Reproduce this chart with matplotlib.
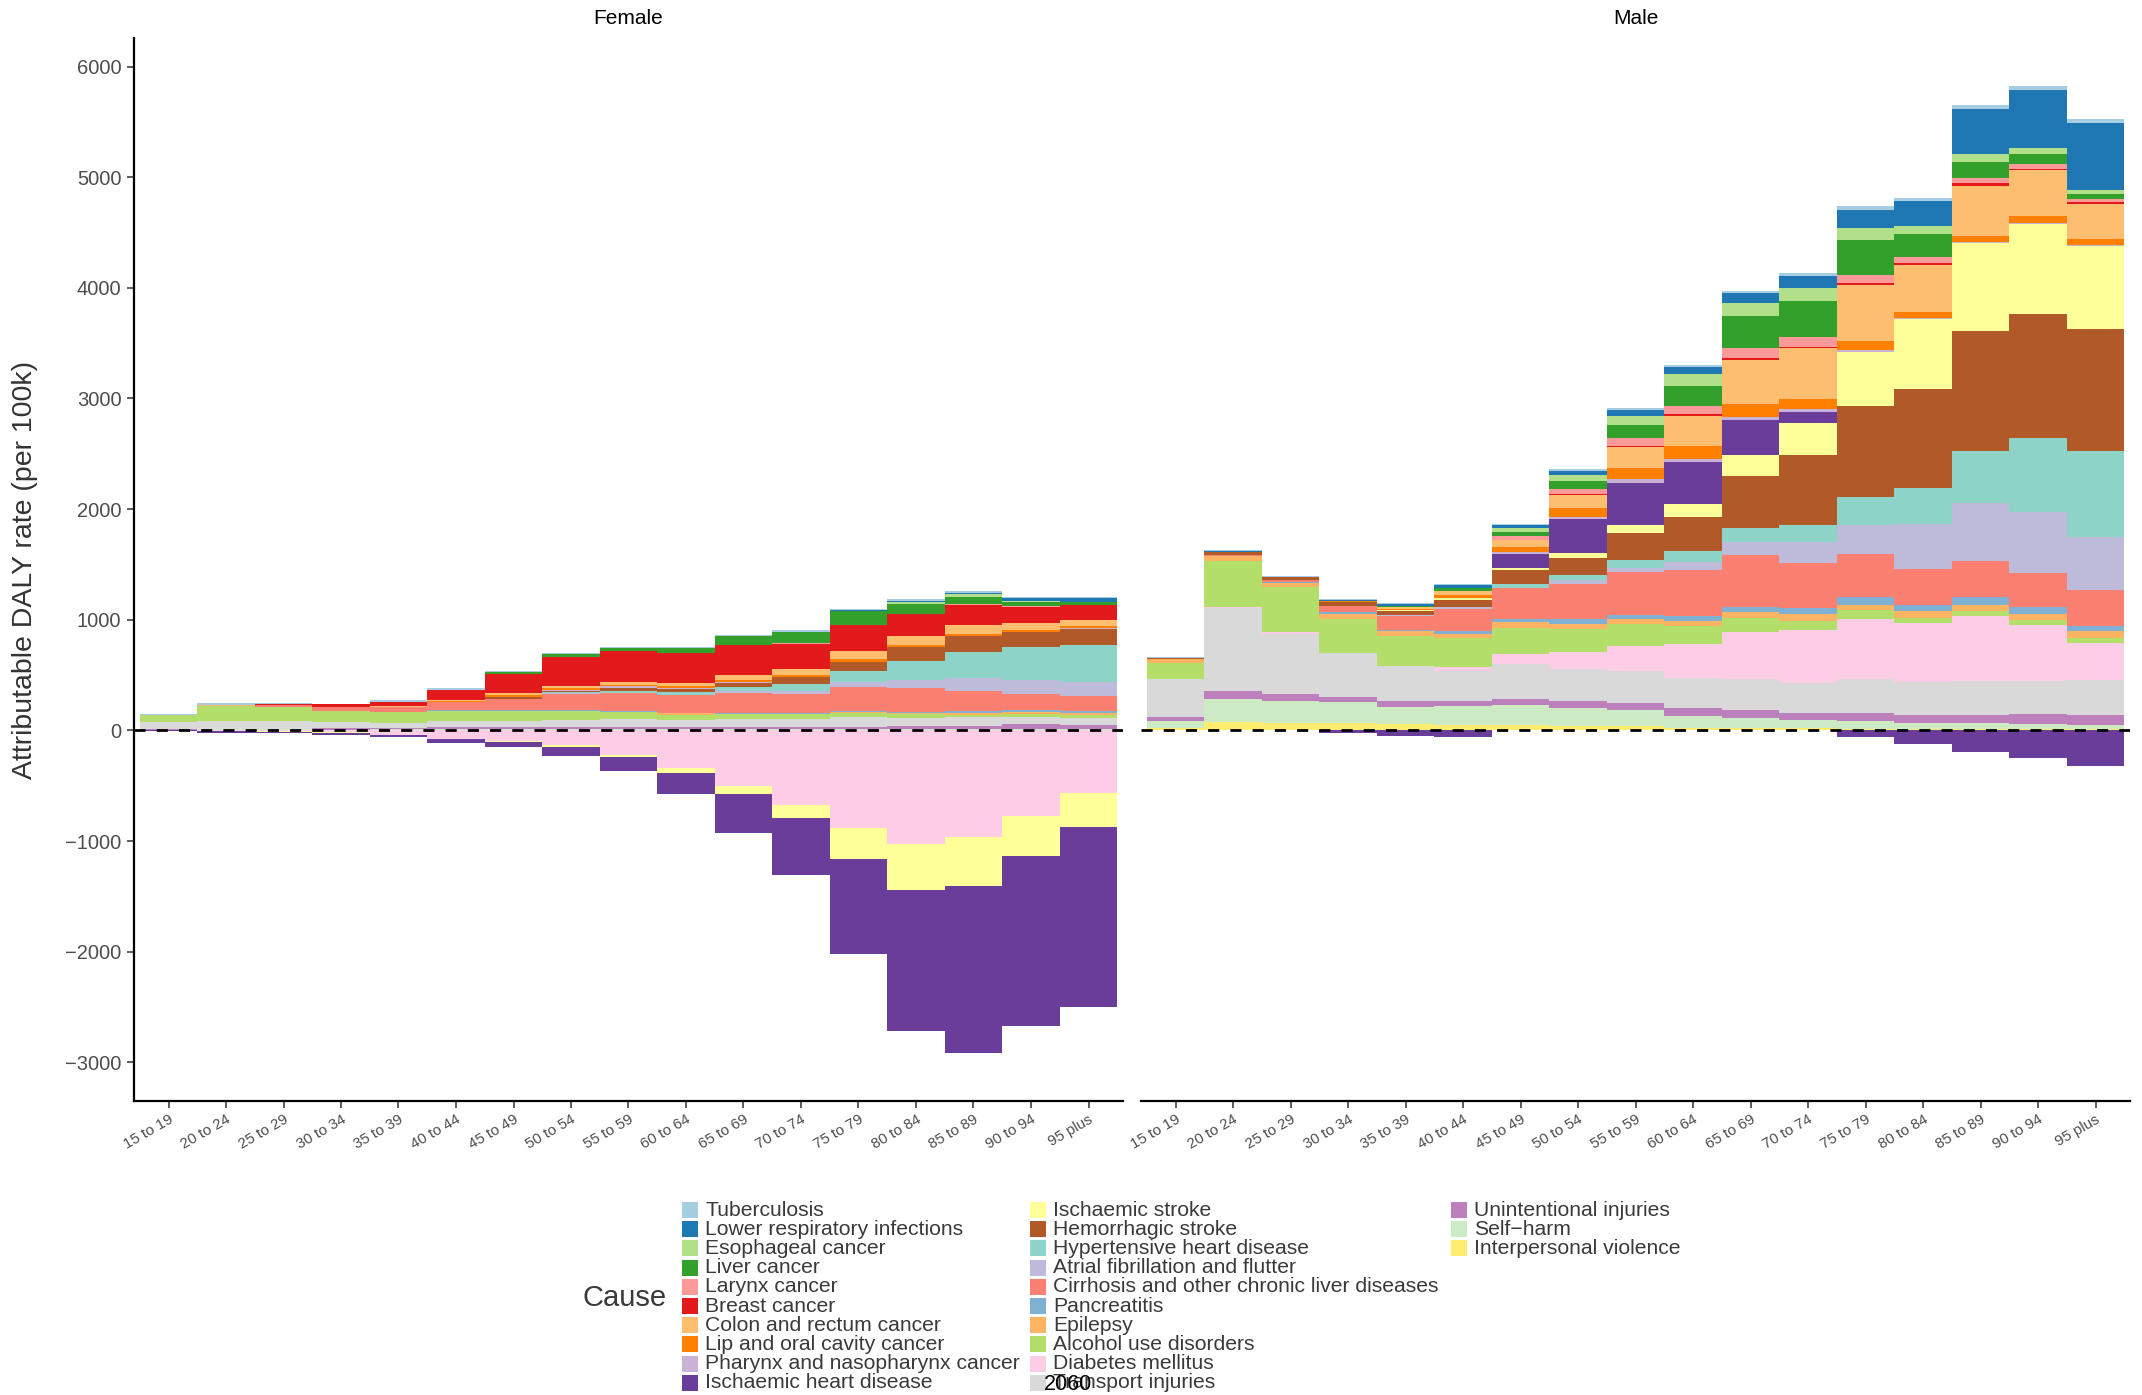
import matplotlib
matplotlib.use("Agg")
import matplotlib.pyplot as plt
from matplotlib.patches import Rectangle
import numpy as np

plt.rcParams['font.family'] = ['Liberation Sans', 'DejaVu Sans']
plt.rcParams['axes.unicode_minus'] = True

# ---------------- data ----------------
ages = ["15 to 19", "20 to 24", "25 to 29", "30 to 34", "35 to 39", "40 to 44",
        "45 to 49", "50 to 54", "55 to 59", "60 to 64", "65 to 69", "70 to 74",
        "75 to 79", "80 to 84", "85 to 89", "90 to 94", "95 plus"]

causes = ["Tuberculosis", "Lower respiratory infections", "Esophageal cancer",
          "Liver cancer", "Larynx cancer", "Breast cancer", "Colon and rectum cancer",
          "Lip and oral cavity cancer", "Pharynx and nasopharynx cancer",
          "Ischaemic heart disease", "Ischaemic stroke", "Hemorrhagic stroke",
          "Hypertensive heart disease", "Atrial fibrillation and flutter",
          "Cirrhosis and other chronic liver diseases", "Pancreatitis", "Epilepsy",
          "Alcohol use disorders", "Diabetes mellitus", "Transport injuries",
          "Unintentional injuries", "Self\u2212harm", "Interpersonal violence"]

cause_colors = ["#A6CEE3", "#1F78B4", "#B2DF8A", "#33A02C", "#FB9A99", "#E31A1C",
                "#FDBF6F", "#FF7F00", "#CAB2D6", "#6A3D9A", "#FFFF99", "#B15928",
                "#8DD3C7", "#BEBADA", "#FB8072", "#80B1D3", "#FDB462", "#B3DE69",
                "#FCCDE5", "#D9D9D9", "#BC80BD", "#CCEBC5", "#FFED6F"]

# Female values (per 100k), one list per cause, ordered by age group
f_tuberculosis   = [5, 12, 5, 5, 15, 12, 9, 9, 12, 15, 15, 24, 15, 18, 18, 9, 9]
f_lower_resp     = [0, 0, 0, 0, 0, 0, 0, 0, 0, 0, 0, 0, 6, 6, 10, 30, 36]
f_esophageal     = [0, 0, 0, 0, 0, 0, 0, 0, 0, 0, 0, 0, 0, 18, 24, 9, 0]
f_liver_cancer   = [0, 0, 0, 0, 0, 6, 18, 24, 27, 42, 81, 96, 126, 90, 63, 33, 27]
f_larynx         = [0, 0, 0, 0, 0, 0, 0, 0, 0, 0, 0, 6, 0, 0, 9, 6, 0]
f_breast         = [0, 0, 10, 24, 39, 87, 169, 262, 280, 267, 264, 225, 234, 198, 180, 147, 135]
f_colon          = [0, 0, 0, 0, 5, 8, 21, 18, 27, 33, 45, 60, 72, 81, 81, 63, 54]
f_lip_oral       = [0, 0, 0, 0, 4, 7, 15, 18, 15, 15, 18, 15, 27, 18, 18, 18, 18]
f_pharynx        = [0, 0, 0, 0, 0, 0, 0, 6, 12, 9, 9, 0, 0, 0, 0, 0, 9]
f_ihd            = [-8, -10, -12, -24, -20, -33, -42, -81, -126, -189, -351, -514, -865, -1270, -1502, -1541, -1631]
f_isch_stroke    = [0, -5, -5, -3, -3, -3, -12, -18, -21, -45, -72, -117, -279, -423, -450, -360, -306]
f_hem_stroke     = [0, 0, 5, 0, 0, 0, 15, 9, 27, 24, 36, 60, 81, 126, 144, 135, 144]
f_hypertensive   = [0, 0, 0, 0, 0, 0, 0, 15, 21, 33, 42, 63, 99, 171, 234, 297, 333]
f_atrial_fib     = [0, 0, 0, 0, 0, 0, 0, 6, 0, 0, 12, 27, 45, 72, 117, 126, 126]
f_cirrhosis      = [0, 0, 10, 36, 45, 75, 105, 145, 160, 165, 189, 180, 225, 225, 189, 153, 144]
f_pancreatitis   = [0, 0, 0, 0, 0, 9, 12, 6, 9, 0, 9, 9, 9, 9, 15, 15, 12]
f_epilepsy       = [5, 12, 8, 0, 0, 0, 0, 6, 0, 15, 0, 0, 9, 9, 18, 18, 24]
f_alcohol        = [60, 139, 126, 105, 100, 90, 84, 80, 69, 48, 45, 45, 36, 36, 21, 30, 27]
f_diabetes       = [0, -5, -8, -18, -40, -78, -96, -132, -219, -339, -501, -673, -880, -1024, -961, -772, -565]
f_transport      = [66, 66, 66, 54, 42, 60, 60, 63, 72, 63, 72, 72, 90, 72, 81, 63, 63]
f_unintentional  = [3, 5, 5, 12, 15, 18, 18, 21, 18, 18, 18, 18, 18, 27, 27, 45, 36]
f_self_harm      = [3, 5, 5, 3, 5, 5, 6, 6, 6, 6, 6, 6, 6, 6, 6, 6, 6]
f_interpersonal  = [3, 5, 5, 3, 3, 3, 3, 3, 3, 3, 3, 3, 3, 3, 3, 3, 3]

# Male values (per 100k)
m_tuberculosis   = [9, 9, 9, 6, 9, 12, 9, 18, 18, 20, 24, 27, 31, 35, 39, 35, 35]
m_lower_resp     = [0, 9, 0, 6, 18, 27, 27, 36, 54, 55, 82, 110, 169, 220, 404, 525, 608]
m_esophageal     = [0, 0, 0, 0, 0, 0, 36, 54, 81, 110, 125, 118, 106, 78, 78, 55, 35]
m_liver_cancer   = [0, 0, 0, 0, 9, 27, 36, 72, 117, 180, 282, 325, 318, 208, 145, 86, 43]
m_larynx         = [0, 0, 0, 0, 0, 0, 36, 45, 72, 78, 90, 86, 71, 47, 47, 43, 31]
m_breast         = [0, 0, 0, 0, 0, 0, 3, 9, 9, 12, 20, 12, 20, 20, 20, 12, 20]
m_colon          = [0, 0, 3, 5, 18, 36, 63, 117, 198, 278, 396, 463, 506, 424, 451, 420, 314]
m_lip_oral       = [0, 0, 3, 4, 9, 27, 45, 81, 99, 118, 118, 90, 82, 55, 59, 59, 51]
m_pharynx        = [0, 0, 0, 0, 0, 0, 18, 18, 36, 20, 27, 27, 16, 12, 12, 12, 16]
m_ihd            = [0, 0, 0, -24, -54, -60, 126, 306, 378, 380, 318, 98, -63, -125, -192, -250, -320]
m_isch_stroke    = [0, 0, 0, 6, 9, 18, 18, 45, 72, 125, 188, 290, 490, 631, 792, 808, 745]
m_hem_stroke     = [9, 27, 27, 30, 36, 63, 126, 153, 243, 306, 471, 631, 816, 894, 1086, 1122, 1102]
m_hypertensive   = [0, 0, 0, 0, 0, 0, 36, 45, 72, 98, 125, 153, 259, 329, 471, 671, 776]
m_atrial_fib     = [0, 0, 0, 0, 6, 18, 0, 36, 36, 75, 118, 188, 255, 404, 525, 549, 482]
m_cirrhosis      = [0, 6, 18, 54, 126, 198, 279, 315, 387, 408, 471, 408, 392, 325, 322, 306, 325]
m_pancreatitis   = [0, 0, 6, 18, 6, 27, 27, 45, 36, 51, 47, 55, 71, 51, 71, 63, 47]
m_epilepsy       = [36, 45, 36, 45, 45, 36, 54, 45, 45, 47, 55, 59, 51, 67, 51, 55, 63]
m_alcohol        = [144, 415, 405, 315, 275, 261, 234, 207, 198, 157, 125, 86, 75, 43, 47, 47, 43]
m_diabetes       = [0, 6, 18, 0, 0, 36, 90, 153, 225, 306, 424, 475, 541, 537, 588, 506, 337]
m_transport      = [351, 750, 540, 390, 320, 270, 315, 297, 297, 271, 282, 278, 310, 294, 310, 298, 314]
m_unintentional  = [36, 72, 63, 54, 54, 54, 63, 63, 63, 75, 71, 63, 71, 75, 71, 94, 90]
m_self_harm      = [63, 216, 204, 186, 153, 171, 180, 162, 144, 106, 90, 71, 75, 55, 55, 43, 39]
m_interpersonal  = [18, 72, 66, 66, 54, 45, 45, 36, 36, 24, 24, 20, 12, 12, 12, 12, 12]

female_series = [f_tuberculosis, f_lower_resp, f_esophageal, f_liver_cancer, f_larynx,
                 f_breast, f_colon, f_lip_oral, f_pharynx, f_ihd, f_isch_stroke,
                 f_hem_stroke, f_hypertensive, f_atrial_fib, f_cirrhosis, f_pancreatitis,
                 f_epilepsy, f_alcohol, f_diabetes, f_transport, f_unintentional,
                 f_self_harm, f_interpersonal]
male_series = [m_tuberculosis, m_lower_resp, m_esophageal, m_liver_cancer, m_larynx,
               m_breast, m_colon, m_lip_oral, m_pharynx, m_ihd, m_isch_stroke,
               m_hem_stroke, m_hypertensive, m_atrial_fib, m_cirrhosis, m_pancreatitis,
               m_epilepsy, m_alcohol, m_diabetes, m_transport, m_unintentional,
               m_self_harm, m_interpersonal]

panels = [("Female", female_series), ("Male", male_series)]

# ---------------- layout ----------------
W, H = 2142, 1395
fig = plt.figure(figsize=(W / 100, H / 100), dpi=100)
fig.patch.set_facecolor("white")

panel_top, panel_bot = 38, 1101
lefts = [134, 1141]
pw = 989

x = np.arange(1, len(ages) + 1)

# y range from the stacked data with 5% expansion (as ggplot)
all_pos, all_neg = [], []
for _, series in panels:
    arr = np.array(series, dtype=float)
    all_pos.append(np.clip(arr, 0, None).sum(axis=0).max())
    all_neg.append(np.clip(arr, None, 0).sum(axis=0).min())
ymax, ymin = max(all_pos), min(all_neg)
pad = 0.05 * (ymax - ymin)
ylim = (ymin - pad, ymax + pad)

text_grey = "#4D4D4D"
axes = []
for k, (label, series) in enumerate(panels):
    ax = fig.add_axes([lefts[k] / W, 1 - panel_bot / H, pw / W, (panel_bot - panel_top) / H])
    axes.append(ax)
    pos_cum = np.zeros(len(ages))
    neg_cum = np.zeros(len(ages))
    for i in range(len(causes) - 1, -1, -1):
        vals = np.array(series[i], dtype=float)
        pos = np.clip(vals, 0, None)
        neg = np.clip(vals, None, 0)
        ax.bar(x, pos, width=1.0, bottom=pos_cum, color=cause_colors[i], linewidth=0)
        ax.bar(x, neg, width=1.0, bottom=neg_cum, color=cause_colors[i], linewidth=0)
        pos_cum += pos
        neg_cum += neg
    ax.axhline(0, color="black", lw=2.0, linestyle=(0, (4, 4)), zorder=5)
    ax.set_xlim(0.4, len(ages) + 0.6)
    ax.set_ylim(*ylim)
    ax.set_xticks(x)
    ax.set_xticklabels(ages, rotation=30, ha="right", va="top",
                       rotation_mode="anchor", fontsize=10.8, color=text_grey)
    ax.tick_params(axis="x", length=5, width=1.1, color="#333333", pad=3)
    for s in ["top", "right"]:
        ax.spines[s].set_visible(False)
    ax.spines["bottom"].set_linewidth(1.6)
    ax.spines["left"].set_linewidth(1.6)
    ax.set_facecolor("white")
    if k == 0:
        ax.set_yticks(np.arange(-3000, 6001, 1000))
        ax.tick_params(axis="y", length=5, width=1.1, color="#333333", pad=4,
                       labelsize=14.5, labelcolor=text_grey)
    else:
        ax.spines["left"].set_visible(False)
        ax.set_yticks([])
    fig.text((lefts[k] + pw / 2) / W, 1 - 18 / H, label, ha="center", va="center",
             fontsize=15, color="black")

fig.text(25 / W, 1 - ((panel_top + panel_bot) / 2) / H, "Attributable DALY rate (per 100k)",
         rotation=90, ha="center", va="center", fontsize=20.5, color="#333333")

# ---------------- legend ----------------
key_w, key_h = 16, 16
col_key_x = [682, 1030, 1451]
row0_y, row_dy = 1210, 19.2
for i, c in enumerate(causes):
    col, row = divmod(i, 10)
    cy = row0_y + row * row_dy
    kx = col_key_x[col]
    fig.patches.append(Rectangle((kx / W, 1 - (cy + key_h / 2) / H), key_w / W, key_h / H,
                                 transform=fig.transFigure, facecolor=cause_colors[i],
                                 edgecolor="none"))
    fig.text((kx + key_w + 7) / W, 1 - cy / H, c, ha="left", va="center",
             fontsize=15.2, color="#3A3A3A")

fig.text(625 / W, 1 - 1298 / H, "Cause", ha="center", va="center",
         fontsize=21, color="#3A3A3A")
fig.text(1068 / W, 1 - 1385 / H, "2060", ha="center", va="center",
         fontsize=15.5, color="black")

fig.savefig("out.png", dpi=100, facecolor="white")
